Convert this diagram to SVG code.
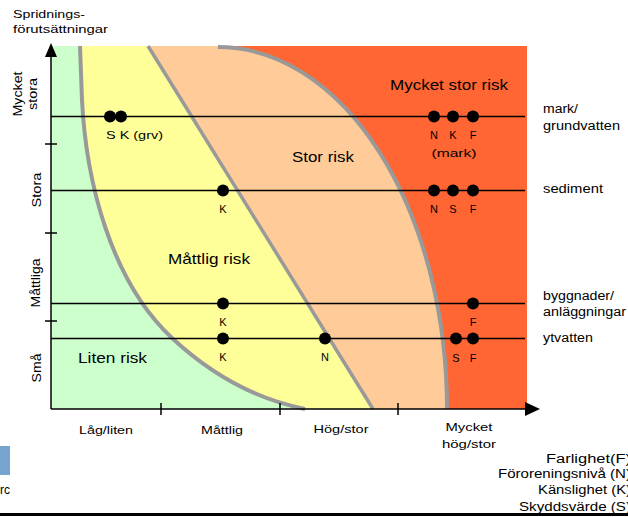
<svg xmlns="http://www.w3.org/2000/svg" width="628" height="517" viewBox="0 0 628 517">
<defs>
<style>
text{font-family:"Liberation Sans",Arial,sans-serif;fill:#000;}
.s11{font-size:11px;}
.s12{font-size:12px;}
.s15{font-size:15px;}
.mid{text-anchor:middle;}
.end{text-anchor:end;}
.bd{fill:none;stroke:#999;stroke-width:4;}
.ln{stroke:#000;stroke-width:1.3;fill:none;}
.ax{stroke:#000;stroke-width:1.5;fill:none;}
.dot{fill:#000;}
</style>
</defs>
<rect width="628" height="517" fill="#fff"/>
<g id="regions">
<rect x="51" y="46" width="476" height="363" fill="#FF6633"/>
<path d="M51,46 L218,46 A229,362 0 0 1 447,409 L51,409 Z" fill="#FFCC99"/>
<path d="M51,46 L148,46 L373,409 L51,409 Z" fill="#FFFF99"/>
<path d="M51,46 L80,46 L82,100 C86,180 110,280 172,338 C215,378 260,400 305,409 L51,409 Z" fill="#CCFFCC"/>
<path class="bd" d="M80,46 L82,100 C86,180 110,280 172,338 C215,378 260,400 305,409"/>
<path class="bd" style="stroke-width:3.5" d="M148,46 L373,409"/>
<path class="bd" d="M218,47 A229,362 0 0 1 447,409"/>
</g>
<g id="axes">
<line class="ax" x1="51" y1="55" x2="51" y2="409"/>
<polygon points="51,43 45,57 57,57" fill="#000"/>
<line class="ax" x1="51" y1="409" x2="527" y2="409"/>
<polygon points="540,409 525,402 525,416" fill="#000"/>
<line class="ax" x1="45" y1="144" x2="57" y2="144"/>
<line class="ax" x1="45" y1="233" x2="57" y2="233"/>
<line class="ax" x1="45" y1="321" x2="57" y2="321"/>
<line class="ax" x1="161" y1="403" x2="161" y2="415"/>
<line class="ax" x1="280" y1="403" x2="280" y2="415"/>
<line class="ax" x1="398" y1="403" x2="398" y2="415"/>
</g>
<g id="connectors">
<line class="ln" x1="51" y1="116.5" x2="525" y2="116.5"/>
<line class="ln" x1="51" y1="190.5" x2="525" y2="190.5"/>
<line class="ln" x1="51" y1="303.5" x2="525" y2="303.5"/>
<line class="ln" x1="51" y1="338.5" x2="525" y2="338.5"/>
</g>
<g id="node-mark">
<circle class="dot" cx="110" cy="116.5" r="6"/>
<circle class="dot" cx="121" cy="116.5" r="6"/>
<text class="s11" x="106" y="139" textLength="57" lengthAdjust="spacingAndGlyphs">S K (grv)</text>
<circle class="dot" cx="434" cy="116.5" r="6"/>
<circle class="dot" cx="453" cy="116.5" r="6"/>
<circle class="dot" cx="473" cy="116.5" r="6"/>
<text class="s11 mid" x="434" y="139">N</text>
<text class="s11 mid" x="453" y="139">K</text>
<text class="s11 mid" x="473" y="139">F</text>
<text class="s11 mid" x="454" y="157" textLength="45" lengthAdjust="spacingAndGlyphs">(mark)</text>
</g>
<g id="node-sediment">
<circle class="dot" cx="223" cy="190.5" r="6"/>
<text class="s11 mid" x="223" y="213">K</text>
<circle class="dot" cx="434" cy="190.5" r="6"/>
<circle class="dot" cx="453" cy="190.5" r="6"/>
<circle class="dot" cx="473" cy="190.5" r="6"/>
<text class="s11 mid" x="434" y="213">N</text>
<text class="s11 mid" x="453" y="213">S</text>
<text class="s11 mid" x="473" y="213">F</text>
</g>
<g id="node-byggnader">
<circle class="dot" cx="223" cy="303.5" r="6"/>
<text class="s11 mid" x="223" y="326">K</text>
<circle class="dot" cx="473" cy="303.5" r="6"/>
<text class="s11 mid" x="473" y="326">F</text>
</g>
<g id="node-ytvatten">
<circle class="dot" cx="223" cy="338.5" r="6"/>
<text class="s11 mid" x="223" y="361">K</text>
<circle class="dot" cx="325" cy="338.5" r="6"/>
<text class="s11 mid" x="325" y="361">N</text>
<circle class="dot" cx="456" cy="338.5" r="6"/>
<circle class="dot" cx="473" cy="338.5" r="6"/>
<text class="s11 mid" x="456" y="362">S</text>
<text class="s11 mid" x="473" y="362">F</text>
</g>
<g id="region-labels">
<text class="s15" x="390" y="90" textLength="118" lengthAdjust="spacingAndGlyphs">Mycket stor risk</text>
<text class="s15" x="292" y="162" textLength="62" lengthAdjust="spacingAndGlyphs">Stor risk</text>
<text class="s15" x="168" y="264" textLength="82" lengthAdjust="spacingAndGlyphs">Måttlig risk</text>
<text class="s15" x="78" y="363" textLength="69" lengthAdjust="spacingAndGlyphs">Liten risk</text>
</g>
<g id="y-labels">
<text class="s11" x="13" y="18" textLength="72" lengthAdjust="spacingAndGlyphs">Spridnings-</text>
<text class="s11" x="13" y="33" textLength="95" lengthAdjust="spacingAndGlyphs">förutsättningar</text>
<text class="s12 mid" transform="translate(22,94) rotate(-90)" textLength="45" lengthAdjust="spacingAndGlyphs">Mycket</text>
<text class="s12 mid" transform="translate(37,94) rotate(-90)" textLength="32" lengthAdjust="spacingAndGlyphs">stora</text>
<text class="s12 mid" transform="translate(41,190) rotate(-90)" textLength="35" lengthAdjust="spacingAndGlyphs">Stora</text>
<text class="s12 mid" transform="translate(40,283) rotate(-90)" textLength="49" lengthAdjust="spacingAndGlyphs">Måttliga</text>
<text class="s12 mid" transform="translate(41,368) rotate(-90)" textLength="29" lengthAdjust="spacingAndGlyphs">Små</text>
</g>
<g id="x-labels">
<text class="s11 mid" x="106" y="434" textLength="54" lengthAdjust="spacingAndGlyphs">Låg/liten</text>
<text class="s11 mid" x="222" y="434" textLength="42" lengthAdjust="spacingAndGlyphs">Måttlig</text>
<text class="s11 mid" x="341" y="433" textLength="55" lengthAdjust="spacingAndGlyphs">Hög/stor</text>
<text class="s11 mid" x="469" y="431" textLength="47" lengthAdjust="spacingAndGlyphs">Mycket</text>
<text class="s11 mid" x="469" y="448" textLength="54" lengthAdjust="spacingAndGlyphs">hög/stor</text>
</g>
<g id="right-labels">
<text class="s12" x="543" y="113" textLength="35" lengthAdjust="spacingAndGlyphs">mark/</text>
<text class="s12" x="543" y="130" textLength="77" lengthAdjust="spacingAndGlyphs">grundvatten</text>
<text class="s12" x="543" y="193" textLength="60" lengthAdjust="spacingAndGlyphs">sediment</text>
<text class="s12" x="543" y="300" textLength="71" lengthAdjust="spacingAndGlyphs">byggnader/</text>
<text class="s12" x="543" y="316" textLength="83" lengthAdjust="spacingAndGlyphs">anläggningar</text>
<text class="s12" x="543" y="342" textLength="50" lengthAdjust="spacingAndGlyphs">ytvatten</text>
</g>
<g id="legend">
<text class="s12 end" x="631" y="463" textLength="85" lengthAdjust="spacingAndGlyphs">Farlighet(F)</text>
<text class="s12 end" x="631" y="478" textLength="133" lengthAdjust="spacingAndGlyphs">Föroreningsnivå (N)</text>
<text class="s12 end" x="631" y="494" textLength="93" lengthAdjust="spacingAndGlyphs">Känslighet (K)</text>
<text class="s12 end" x="631" y="511" textLength="112" lengthAdjust="spacingAndGlyphs">Skyddsvärde (S)</text>
</g>
<g id="misc">
<rect x="0" y="446" width="10" height="29" fill="#75A5CF"/>
<text class="s12" x="0" y="494">rc</text>
<rect x="0" y="513" width="628" height="3" fill="#000"/>
</g>
</svg>
